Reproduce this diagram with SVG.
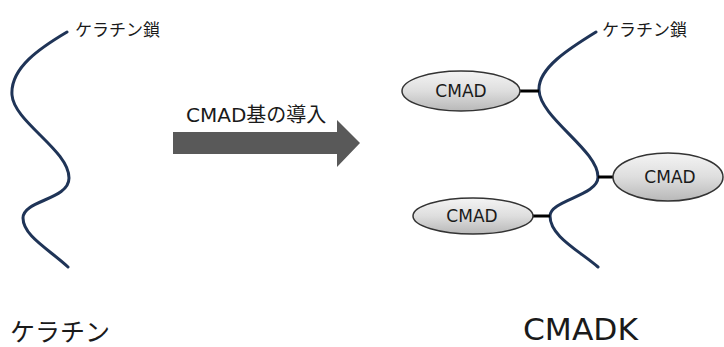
<svg xmlns="http://www.w3.org/2000/svg" width="724" height="347" viewBox="0 0 724 347">
<style>
.chain{fill:none;stroke:#1f3457;stroke-width:3;stroke-linecap:round}
.bond{stroke:#000;stroke-width:3}
.ell{fill:url(#g);stroke:#333;stroke-width:1.5}
.lbl{font-family:"DejaVu Sans","Noto Sans CJK JP",sans-serif;fill:#1a1a1a}
.jp{font-family:"Noto Sans CJK JP",sans-serif;fill:#1a1a1a}
</style>
<defs>
<linearGradient id="g" x1="0" y1="0" x2="0" y2="1">
<stop offset="0" stop-color="#f4f4f4"/>
<stop offset="0.5" stop-color="#dedede"/>
<stop offset="1" stop-color="#b8b8b8"/>
</linearGradient>
</defs>
<rect width="724" height="347" fill="#fff"/>
<g id="keratin-left">
<path class="chain" d="M67,32 C40,48 10,68 12,95 C14,122 69,150 69,178 C69,200 23,200 23,218 C23,236 50,250 68,267"/>
<text class="jp" x="75" y="36" font-size="17">ケラチン鎖</text>
<text class="jp" x="10" y="341" font-size="25">ケラチン</text>
</g>
<g id="arrow">
<polygon points="173,132 337,132 337,120 360,143 337,167 337,154 173,154" fill="#595959"/>
<text class="lbl" x="186" y="122" font-size="20">CMAD基の導入</text>
</g>
<g id="keratin-right">
<path class="chain" d="M596,32 C570,48 538,68 539,90 C540,118 598,150 598,177 C598,196 550,200 550,216 C550,236 578,250 598,267"/>
<text class="jp" x="602" y="36" font-size="17">ケラチン鎖</text>
<text class="lbl" x="523" y="340" font-size="30" textLength="115" lengthAdjust="spacingAndGlyphs">CMADK</text>
</g>
<g id="connectors">
<line class="bond" x1="520" y1="91" x2="539" y2="91"/>
<line class="bond" x1="598" y1="177" x2="614" y2="177"/>
<line class="bond" x1="533" y1="216" x2="550" y2="216"/>
</g>
<g id="cmad1">
<ellipse class="ell" cx="461" cy="91" rx="59" ry="20"/>
<text class="lbl" x="461" y="97" font-size="17" text-anchor="middle">CMAD</text>
</g>
<g id="cmad2">
<ellipse class="ell" cx="668" cy="177" rx="55" ry="24"/>
<text class="lbl" x="670" y="183" font-size="17" text-anchor="middle">CMAD</text>
</g>
<g id="cmad3">
<ellipse class="ell" cx="473" cy="216" rx="60" ry="18"/>
<text class="lbl" x="472" y="222" font-size="17" text-anchor="middle">CMAD</text>
</g>
</svg>
